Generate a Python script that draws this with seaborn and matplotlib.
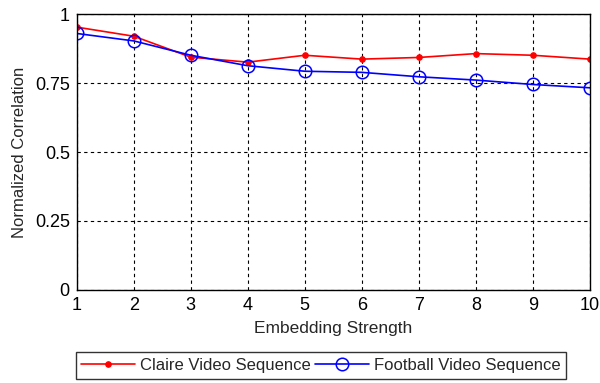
import matplotlib
matplotlib.use("Agg")
import matplotlib.pyplot as plt
import seaborn as sns
import pandas as pd

strength = [1, 2, 3, 4, 5, 6, 7, 8, 9, 10]
claire = [0.953, 0.920, 0.844, 0.826, 0.851, 0.837, 0.843, 0.857, 0.851, 0.837]
football = [0.930, 0.903, 0.851, 0.813, 0.793, 0.789, 0.773, 0.761, 0.745, 0.733]
yticks = [0, 0.25, 0.5, 0.75, 1]
ytick_labels = ["0", "0.25", "0.5", "0.75", "1"]

sns.set_style("white")
plt.rcParams['font.family'] = ['Liberation Sans', 'DejaVu Sans']

fig = plt.figure(figsize=(6, 3.83), dpi=100)
ax = fig.add_axes([0.128, 0.243, 0.855, 0.72])

df = pd.DataFrame({"x": strength, "claire": claire, "football": football})
sns.lineplot(data=df, x="x", y="claire", ax=ax, color="red", marker=".",
             markersize=8, markeredgecolor="red", markerfacecolor="red",
             linewidth=1.2, label="Claire Video Sequence")
sns.lineplot(data=df, x="x", y="football", ax=ax, color="blue", marker="o",
             markersize=9, markerfacecolor="none", markeredgecolor="blue",
             markeredgewidth=1.1, linewidth=1.2, label="Football Video Sequence")

ax.set_xlim(1, 10)
ax.set_ylim(0, 1)
ax.set_xticks(strength)
ax.set_yticks(yticks)
ax.set_yticklabels(ytick_labels)
ax.grid(True, color="black", linestyle=(0, (3, 3)), linewidth=0.8)
ax.tick_params(direction="in", length=4, labelsize=13, colors="black", pad=5)
for s in ax.spines.values():
    s.set_color("black")
    s.set_linewidth(1.0)
ax.set_xlabel("Embedding Strength", fontsize=12.5, labelpad=5)
ax.set_ylabel("Normalized Correlation", fontsize=12, labelpad=6)

h, l = ax.get_legend_handles_labels()
ax.get_legend().remove()
leg = fig.legend(h, l, loc="upper left", bbox_to_anchor=(0.112, 0.102), ncol=2,
                 frameon=True, fancybox=False, edgecolor="black", fontsize=12,
                 handlelength=3.2, columnspacing=0.3, handletextpad=0.3,
                 borderpad=0.35)
leg.get_frame().set_linewidth(1.0)

fig.savefig("out.png", dpi=100)
